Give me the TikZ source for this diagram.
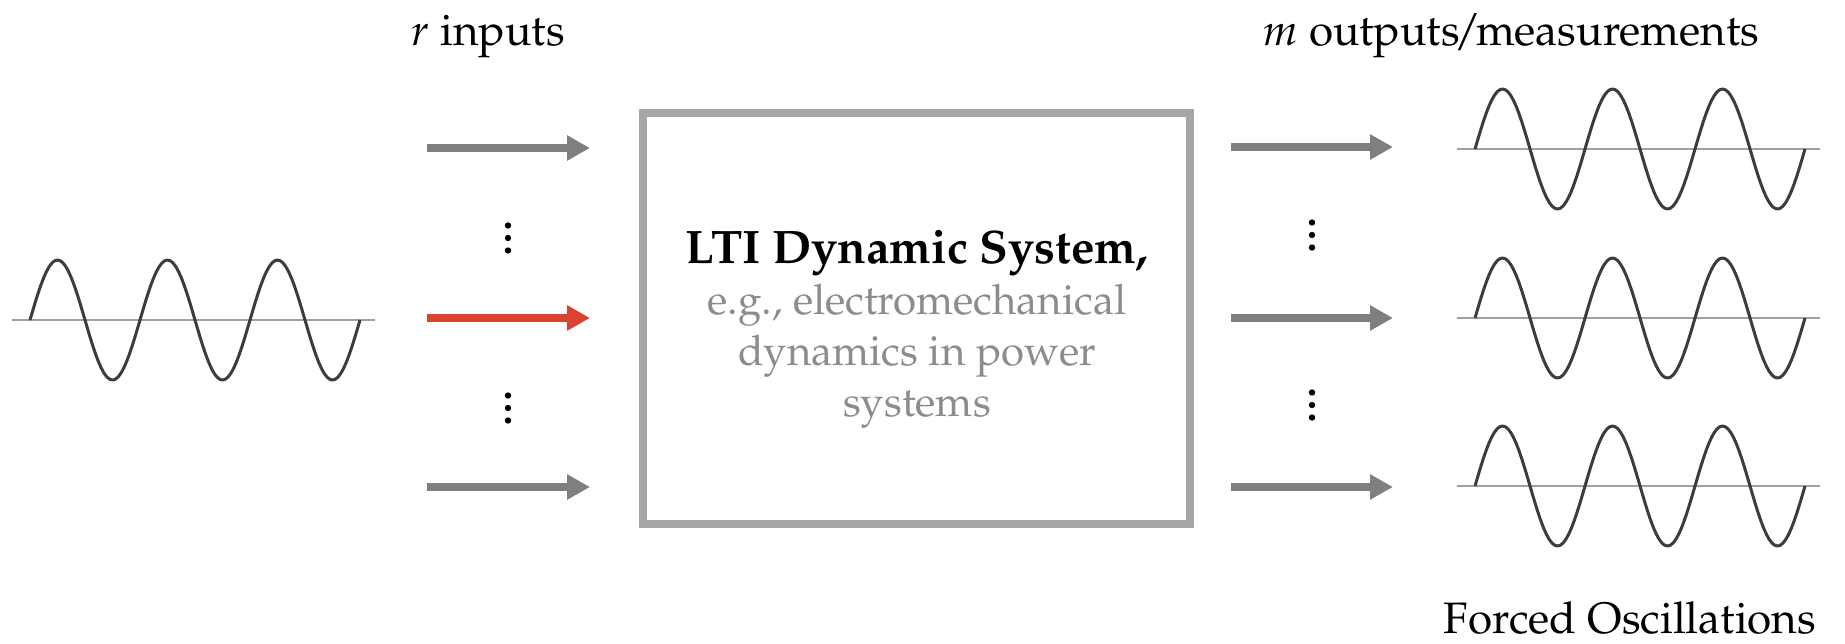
\documentclass[tikz,border=0pt]{standalone}
\usepackage[T1]{fontenc}
\usepackage{mathpazo}
\usepackage{xcolor}
\usepackage{tikz}
\usetikzlibrary{arrows.meta,positioning,calc}
\definecolor{arrowgray}{HTML}{7F7F7F}
\definecolor{boxgray}{HTML}{A6A6A6}
\definecolor{inred}{HTML}{D9432F}
\definecolor{textgray}{HTML}{8C8C8C}
\definecolor{wavegray}{HTML}{3C3C3C}
\definecolor{axisgray}{HTML}{A0A0A0}

\begin{document}
\begin{tikzpicture}[x=0.5pt,y=-0.5pt,
  lbl/.style={font=\fontsize{22}{25}\selectfont,inner sep=0pt},
  sysbox/.style={draw=boxgray,line width=4pt,minimum width=273.5pt,minimum height=205.5pt},
  systext/.style={align=center,text=textgray,inner sep=0pt,font=\fontsize{21}{25.5}\selectfont},
  arr/.style={-{Triangle[length=11.5pt,width=12pt]},draw=arrowgray,line width=4pt},
  wave/.pic={
    \draw[axisgray,line width=1pt] (-18,0) -- (345,0);
    \draw[wavegray,line width=1.5pt,line join=round]
      plot[domain=0:330,samples=121] (\x,{-60*sin(3.2727*\x)});
  }
]
\useasboundingbox (0,0) rectangle (1845,643);

\node[sysbox] (lti) at (916.5,318.5) {};
\node[systext] (ltitext) at (917,329)
  {\textcolor{black}{\fontsize{23.5}{25.5}\selectfont\bfseries LTI Dynamic System,}\\
   e.g., electromechanical\\dynamics in power\\systems};

\node[lbl,anchor=base] (rin) at (488,45) {$r$ inputs};
\node[lbl,anchor=base] (mout) at (1511,45) {$m$ outputs\kern-0.12em/\kern-0.12em measurements};
\node[lbl,anchor=base] (forced) at (1630,633) {Forced Oscillations};

\coordinate (in1) at (427,148);
\coordinate (in2) at (427,318);
\coordinate (in3) at (427,487);
\coordinate (out1) at (1393,147);
\coordinate (out2) at (1393,318);
\coordinate (out3) at (1393,487);

\draw[arr,shorten >=24.5pt] (in1) -- (in1 -| lti.west);
\draw[arr,draw=inred,shorten >=24.5pt] (in2) -- (in2 -| lti.west);
\draw[arr,shorten >=24.5pt] (in3) -- (in3 -| lti.west);
\draw[arr,shorten <=18.5pt] (out1 -| lti.east) -- (out1);
\draw[arr,shorten <=18.5pt] (out2 -| lti.east) -- (out2);
\draw[arr,shorten <=18.5pt] (out3 -| lti.east) -- (out3);

\foreach \dx/\dy in {508/238,508/408,1312/235,1312/405}
  \foreach \k in {-12.5,0,12.5}
    \fill (\dx,\dy+\k) circle[radius=1.6pt];

\pic (wavein) at (30,320) {wave};
\pic (waveout1) at (1475,149) {wave};
\pic (waveout2) at (1475,318) {wave};
\pic (waveout3) at (1475,486) {wave};
\end{tikzpicture}
\end{document}
